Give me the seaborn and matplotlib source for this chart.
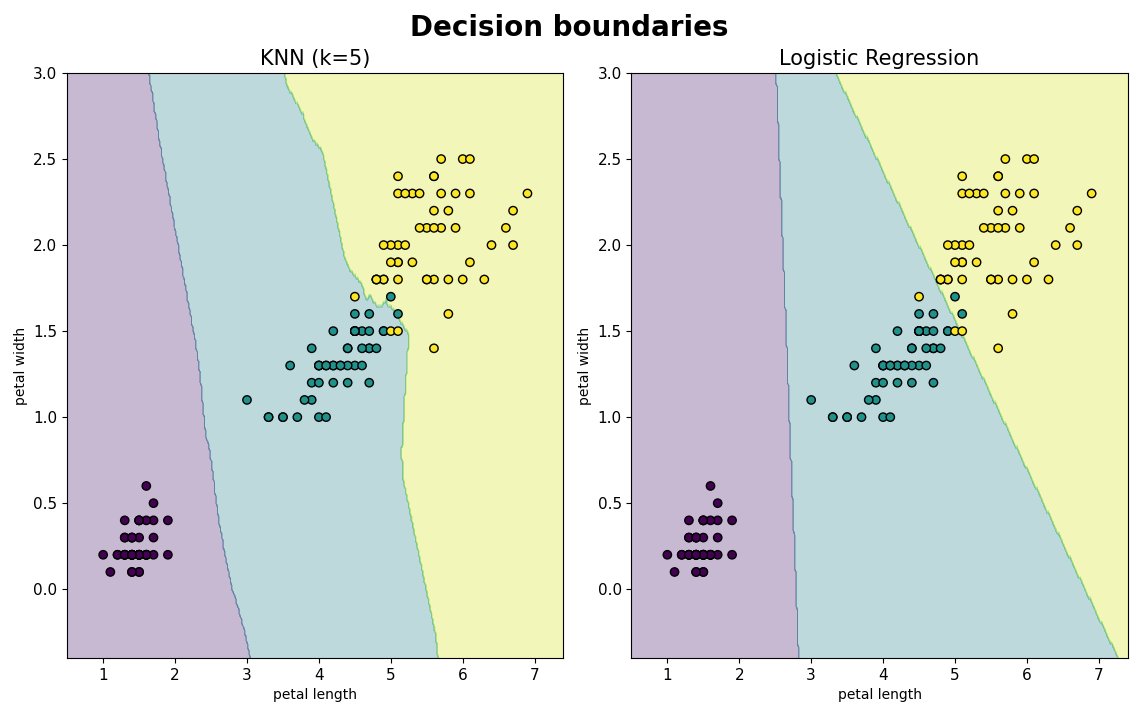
import numpy as np
import matplotlib
matplotlib.use("Agg")
import matplotlib.pyplot as plt
import seaborn as sns

# iris petal measurements, one list per species
setosa_length = [1.4, 1.4, 1.3, 1.5, 1.4, 1.7, 1.4, 1.5, 1.4, 1.5, 1.5, 1.6, 1.4, 1.1, 1.2, 1.5, 1.3,
                 1.4, 1.7, 1.5, 1.7, 1.5, 1.0, 1.7, 1.9, 1.6, 1.6, 1.5, 1.4, 1.6, 1.6, 1.5, 1.5, 1.4,
                 1.5, 1.2, 1.3, 1.4, 1.3, 1.5, 1.3, 1.3, 1.3, 1.6, 1.9, 1.4, 1.6, 1.4, 1.5, 1.4]
setosa_width = [0.2, 0.2, 0.2, 0.2, 0.2, 0.4, 0.3, 0.2, 0.2, 0.1, 0.2, 0.2, 0.1, 0.1, 0.2, 0.4, 0.4,
                0.3, 0.3, 0.3, 0.2, 0.4, 0.2, 0.5, 0.2, 0.2, 0.4, 0.2, 0.2, 0.2, 0.2, 0.4, 0.1, 0.2,
                0.2, 0.2, 0.2, 0.1, 0.2, 0.2, 0.3, 0.3, 0.2, 0.6, 0.4, 0.3, 0.2, 0.2, 0.2, 0.2]
versicolor_length = [4.7, 4.5, 4.9, 4.0, 4.6, 4.5, 4.7, 3.3, 4.6, 3.9, 3.5, 4.2, 4.0, 4.7, 3.6, 4.4,
                     4.5, 4.1, 4.5, 3.9, 4.8, 4.0, 4.9, 4.7, 4.3, 4.4, 4.8, 5.0, 4.5, 3.5, 3.8, 3.7,
                     3.9, 5.1, 4.5, 4.5, 4.7, 4.4, 4.1, 4.0, 4.4, 4.6, 4.0, 3.3, 4.2, 4.2, 4.2, 4.3,
                     3.0, 4.1]
versicolor_width = [1.4, 1.5, 1.5, 1.3, 1.5, 1.3, 1.6, 1.0, 1.3, 1.4, 1.0, 1.5, 1.0, 1.4, 1.3, 1.4,
                    1.5, 1.0, 1.5, 1.1, 1.8, 1.3, 1.5, 1.2, 1.3, 1.4, 1.4, 1.7, 1.5, 1.0, 1.1, 1.0,
                    1.2, 1.6, 1.5, 1.6, 1.5, 1.3, 1.3, 1.3, 1.2, 1.4, 1.2, 1.0, 1.3, 1.2, 1.3, 1.3,
                    1.1, 1.3]
virginica_length = [6.0, 5.1, 5.9, 5.6, 5.8, 6.6, 4.5, 6.3, 5.8, 6.1, 5.1, 5.3, 5.5, 5.0, 5.1, 5.3,
                    5.5, 6.7, 6.9, 5.0, 5.7, 4.9, 6.7, 4.9, 5.7, 6.0, 4.8, 4.9, 5.6, 5.8, 6.1, 6.4,
                    5.6, 5.1, 5.6, 6.1, 5.6, 5.5, 4.8, 5.4, 5.6, 5.1, 5.1, 5.9, 5.7, 5.2, 5.0, 5.2,
                    5.4, 5.1]
virginica_width = [2.5, 1.9, 2.1, 1.8, 2.2, 2.1, 1.7, 1.8, 1.8, 2.5, 2.0, 1.9, 2.1, 2.0, 2.4, 2.3,
                   1.8, 2.2, 2.3, 1.5, 2.3, 2.0, 2.0, 1.8, 2.1, 1.8, 1.8, 1.8, 2.1, 1.6, 1.9, 2.0,
                   2.2, 1.5, 1.4, 2.3, 2.4, 1.8, 1.8, 2.1, 2.4, 2.3, 1.9, 2.3, 2.5, 2.3, 1.9, 2.0,
                   2.3, 1.8]

X = np.column_stack([setosa_length + versicolor_length + virginica_length,
                     setosa_width + versicolor_width + virginica_width])
y = np.array([0] * len(setosa_length) + [1] * len(versicolor_length) + [2] * len(virginica_length))

# grid over the feature space
step = 0.02
x_lo, x_hi = X[:, 0].min() - 0.5, X[:, 0].max() + 0.5
y_lo, y_hi = X[:, 1].min() - 0.5, X[:, 1].max() + 0.5
xx, yy = np.meshgrid(np.arange(x_lo, x_hi + step, step),
                     np.arange(y_lo, y_hi + step, step))
grid = np.c_[xx.ravel(), yy.ravel()]


# --- KNN (k=5) ---
def knn_predict(pts, k=5):
    d = ((pts[:, None, :] - X[None, :, :]) ** 2).sum(axis=2)
    idx = np.argsort(d, axis=1, kind="stable")[:, :k]
    votes = np.zeros((len(pts), 3))
    for c in range(3):
        votes[:, c] = (y[idx] == c).sum(axis=1)
    return votes.argmax(axis=1)


# --- multinomial logistic regression, L2 penalty C=1, Newton steps ---
def fit_logreg(C=1.0, iters=60):
    Xa = np.c_[X, np.ones(len(X))]
    Y = np.eye(3)[y]
    W = np.zeros((3, 3))
    R = np.diag([1 / C, 1 / C, 0.0])
    for _ in range(iters):
        z = Xa @ W
        z -= z.max(axis=1, keepdims=True)
        p = np.exp(z)
        p /= p.sum(axis=1, keepdims=True)
        G = Xa.T @ (p - Y) + R @ W
        H = np.zeros((9, 9))
        for c in range(3):
            for d in range(3):
                w = p[:, c] * ((c == d) - p[:, d])
                blk = (Xa * w[:, None]).T @ Xa
                if c == d:
                    blk = blk + R
                H[c * 3:(c + 1) * 3, d * 3:(d + 1) * 3] = blk
        g = G.T.ravel()
        delta = np.linalg.lstsq(H, g, rcond=None)[0]
        W -= delta.reshape(3, 3).T
    return W


Z_knn = knn_predict(grid).reshape(xx.shape)
W = fit_logreg()
Z_lr = (np.c_[grid, np.ones(len(grid))] @ W).argmax(axis=1).reshape(xx.shape)

fig, axes = plt.subplots(1, 2, figsize=(11.39, 7.16), dpi=100)
for ax, Z, title in zip(axes, [Z_knn, Z_lr], ["KNN (k=5)", "Logistic Regression"]):
    ax.contourf(xx, yy, Z, alpha=0.3, cmap="viridis")
    sns.scatterplot(x=X[:, 0], y=X[:, 1], hue=y, palette="viridis", edgecolor="black",
                    linewidth=1, s=36, legend=False, ax=ax)
    ax.set_xlim(x_lo, x_hi)
    ax.set_ylim(y_lo, y_hi)
    ax.set_title(title, fontsize=15)
    ax.set_xlabel("petal length")
    ax.set_ylabel("petal width")
    ax.tick_params(labelsize=11)

fig.suptitle("Decision boundaries", fontsize=20, fontweight="bold")
fig.subplots_adjust(left=0.059, right=0.990, top=0.898, bottom=0.081, wspace=0.137)
fig.savefig("out.png", dpi=100)
